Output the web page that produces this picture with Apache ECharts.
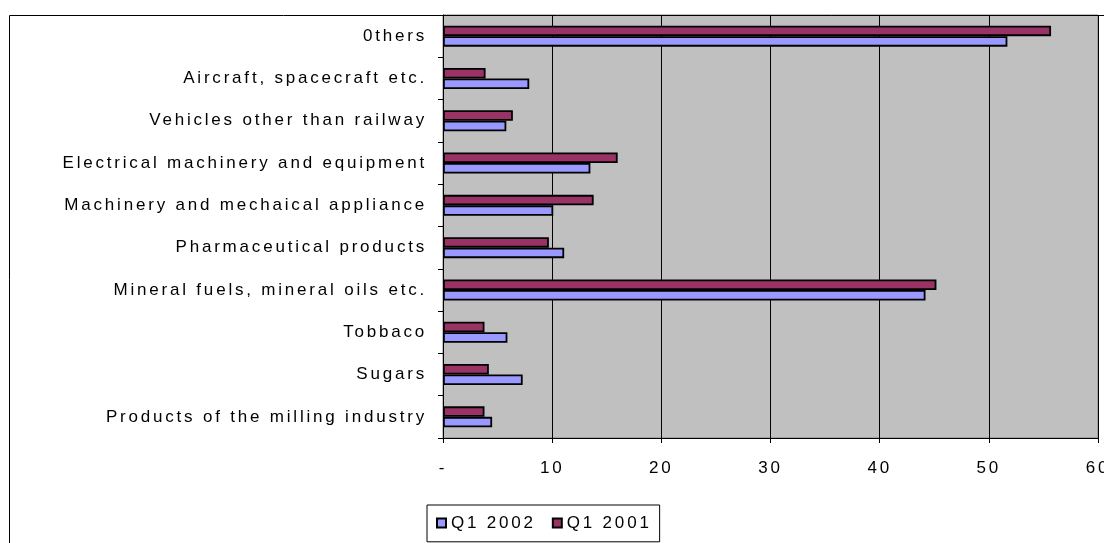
<!DOCTYPE html>
<html>
<head>
<meta charset="utf-8">
<style>
html,body{margin:0;padding:0;background:#fff;}
#chart{width:1104px;height:543px;}
</style>
<script src="https://cdn.jsdelivr.net/npm/echarts@6/dist/echarts.min.js"></script>
</head>
<body>
<div id="chart"></div>
<script>
// ---- data (bottom to top) ----
const categories = [
  'Products of the milling industry',
  'Sugars',
  'Tobbaco',
  'Mineral fuels, mineral oils etc.',
  'Pharmaceutical products',
  'Machinery and mechaical appliance',
  'Electrical machinery and equipment',
  'Vehicles other than railway',
  'Aircraft, spacecraft etc.',
  '0thers'
];
const q1_2002 = [4.5, 7.3, 5.9, 44.2, 11.1, 10.1, 13.5, 5.8, 7.9, 51.7];
const q1_2001 = [3.8, 4.2, 3.8, 45.2, 9.7, 13.8, 16.0, 6.4, 3.9, 55.7];
const xTickLabels = ['-', '10', '20', '30', '40', '50', '60'];
const seriesNames = ['Q1 2002', 'Q1 2001'];

// spaced-out lettering like the original export
(function () {
  const proto = CanvasRenderingContext2D.prototype;
  const d = Object.getOwnPropertyDescriptor(proto, 'font');
  if (d && ('letterSpacing' in proto)) {
    Object.defineProperty(proto, 'font', {
      configurable: true,
      get() { return d.get.call(this); },
      set(v) { d.set.call(this, v); this.letterSpacing = '2.8px'; }
    });
  }
})();

const FONT = 'Liberation Sans, Arial, sans-serif';
const FS = 17;
const chart = echarts.init(document.getElementById('chart'), null, {renderer: 'canvas'});
chart.setOption({
  animation: false,
  backgroundColor: '#ffffff',
  textStyle: {fontFamily: FONT, color: '#000'},
  graphic: [{
    type: 'rect', z: 100, silent: true,
    shape: {x: 9.5, y: 15.5, width: 1200, height: 600},
    style: {fill: 'none', stroke: '#000', lineWidth: 1}
  }],
  legend: {
    data: seriesNames,
    left: 427, top: 505,
    orient: 'horizontal',
    icon: 'rect',
    itemWidth: 9, itemHeight: 9, itemGap: 16,
    padding: [8, 8, 9, 9],
    borderColor: '#000', borderWidth: 1,
    backgroundColor: '#fff',
    textStyle: {fontFamily: FONT, fontSize: FS, color: '#000'}
  },
  grid: {
    left: 443, right: 6, top: 15, bottom: 105,
    show: true, backgroundColor: '#C0C0C0', borderColor: '#808080', borderWidth: 1,
    containLabel: false,
    outerBoundsMode: 'none'
  },
  xAxis: {
    type: 'value', min: 0, max: 60, interval: 10,
    axisLine: {show: true, lineStyle: {color: '#000', width: 1}},
    axisTick: {show: true, length: 5, lineStyle: {color: '#000'}},
    splitLine: {show: true, lineStyle: {color: '#000', width: 1}},
    axisLabel: {
      fontFamily: FONT, fontSize: FS, color: '#000', margin: 20,
      hideOverlap: false, showMaxLabel: true,
      formatter: function (v) { return xTickLabels[Math.round(v / 10)]; }
    }
  },
  yAxis: {
    type: 'category', data: categories,
    axisLine: {show: true, lineStyle: {color: '#000', width: 1}},
    axisTick: {show: true, length: 5, lineStyle: {color: '#000'}},
    splitLine: {show: false},
    axisLabel: {fontFamily: FONT, fontSize: FS, color: '#000', margin: 16, interval: 0}
  },
  series: [
    {
      name: seriesNames[1], type: 'bar', data: q1_2001,
      barWidth: 10.5, barGap: '0%',
      itemStyle: {color: '#993366', borderColor: '#000', borderWidth: 1.8}
    },
    {
      name: seriesNames[0], type: 'bar', data: q1_2002,
      barWidth: 10.5, barGap: '0%',
      itemStyle: {color: '#9999FF', borderColor: '#000', borderWidth: 1.8}
    }
  ]
});
</script>
</body>
</html>
